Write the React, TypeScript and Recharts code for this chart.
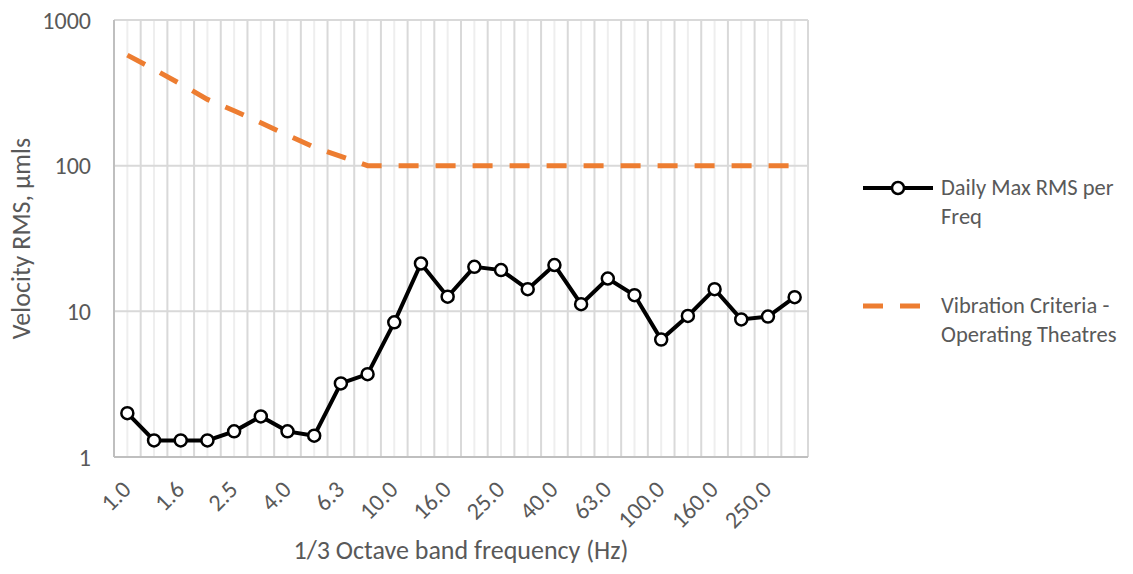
import React from 'react';
import { LineChart, Line, XAxis, YAxis, CartesianGrid, Legend, Label } from 'recharts';

// 1/3 octave band centre frequencies (Hz)
const freqLabels = ['1.0', '1.3', '1.6', '2.0', '2.5', '3.2', '4.0', '5.0', '6.3', '8.0', '10.0', '12.5', '16.0',
  '20.0', '25.0', '31.5', '40.0', '50.0', '63.0', '80.0', '100.0', '125.0', '160.0', '200.0', '250.0', '315.0'];

const dailyMaxRms = [2.0, 1.3, 1.3, 1.3, 1.5, 1.9, 1.5, 1.4, 3.2, 3.7, 8.4, 21.3, 12.6,
  20.2, 19.2, 14.2, 20.8, 11.2, 16.8, 12.9, 6.4, 9.3, 14.2, 8.8, 9.2, 12.5];

const theatreCriteria = [574, 459, 363, 285, 238, 197, 162, 134, 116, 100, 100, 100, 100,
  100, 100, 100, 100, 100, 100, 100, 100, 100, 100, 100, 100, 100];

const yTicks = [1, 10, 100, 1000];

const data = freqLabels.map((f, i) => ({ freq: f, daily: dailyMaxRms[i], criteria: theatreCriteria[i] }));

const FONT = 'Carlito, Calibri, Lato, sans-serif';
const TEXT = '#595959';
const ORANGE = '#ED7D31';

const bandLines = (offset: any, centre: boolean) => {
  const n = freqLabels.length;
  const step = offset.width / n;
  const out: number[] = [];
  for (let k = 0; k <= n; k++) {
    if (centre) {
      if (k < n) out.push(offset.left + step * (k + 0.5));
    } else if (k > 0) {
      out.push(offset.left + step * k);
    }
  }
  return out;
};

const FreqTick = (props: any) => {
  const { x, y, payload } = props;
  return (
    <g transform={`translate(${x + 5},${y})`}>
      <text x={0} y={0} textAnchor="end" transform="rotate(-45)" fill={TEXT} fontSize={24} fontFamily={FONT}>
        {payload.value}
      </text>
    </g>
  );
};

const renderLegend = () => (
  <div style={{ fontFamily: FONT, fontSize: 22.5, color: TEXT, lineHeight: '29px', whiteSpace: 'nowrap' }}>
    <div style={{ display: 'flex', alignItems: 'flex-start' }}>
      <svg width={78} height={29} style={{ flexShrink: 0 }}>
        <line x1={0} y1={15} x2={70} y2={15} stroke="#000" strokeWidth={4} />
        <circle cx={35} cy={15} r={6} fill="#fff" stroke="#000" strokeWidth={2.5} />
      </svg>
      <div>Daily Max RMS per<br />Freq</div>
    </div>
    <div style={{ display: 'flex', alignItems: 'flex-start', marginTop: 60 }}>
      <svg width={78} height={29} style={{ flexShrink: 0 }}>
        <line x1={0} y1={15} x2={57} y2={15} stroke={ORANGE} strokeWidth={5} strokeDasharray="20 17" />
      </svg>
      <div>Vibration Criteria -<br />Operating Theatres</div>
    </div>
  </div>
);

export default function App() {
  return (
    <div style={{ margin: -8, width: 1133, height: 574, background: '#fff' }}>
      <LineChart width={1133} height={574} data={data} margin={{ top: 20, right: 325, bottom: 0, left: 0 }}>
        <CartesianGrid horizontal={false} stroke="#eeeeee" strokeWidth={2}
          verticalCoordinatesGenerator={({ offset }: any) => bandLines(offset, true)} />
        <CartesianGrid stroke="#d9d9d9" strokeWidth={2}
          verticalCoordinatesGenerator={({ offset }: any) => bandLines(offset, false)} />
        <XAxis dataKey="freq" scale="band" interval={1} height={117} tickLine={false}
          axisLine={{ stroke: '#bfbfbf', strokeWidth: 2 }} tickSize={0} tickMargin={34} tick={<FreqTick />}>
          <Label value="1/3 Octave band frequency (Hz)" position="insideBottom" offset={15}
            fill={TEXT} fontSize={26} fontFamily={FONT} />
        </XAxis>
        <YAxis type="number" scale="log" domain={[1, 1000]} ticks={yTicks} allowDataOverflow width={114}
          tickLine={false} axisLine={{ stroke: '#bfbfbf', strokeWidth: 2 }} tickSize={0} tickMargin={23}
          tick={{ fill: TEXT, fontSize: 24, fontFamily: FONT }}>
          <Label value="Velocity RMS, µmls" angle={-90} position="insideLeft" offset={21}
            fill={TEXT} fontSize={26} fontFamily={FONT} style={{ textAnchor: 'middle' }} />
        </YAxis>
        <Legend layout="vertical" align="center" verticalAlign="middle" content={renderLegend}
          wrapperStyle={{ position: 'absolute', left: 863, top: 173, width: 270 }} />
        <Line dataKey="criteria" name="Vibration Criteria - Operating Theatres" stroke={ORANGE} strokeWidth={5}
          strokeDasharray="20 17" dot={false} isAnimationActive={false} />
        <Line dataKey="daily" name="Daily Max RMS per Freq" stroke="#000" strokeWidth={4}
          dot={{ r: 6, fill: '#fff', stroke: '#000', strokeWidth: 2.5 }} isAnimationActive={false} />
      </LineChart>
    </div>
  );
}
